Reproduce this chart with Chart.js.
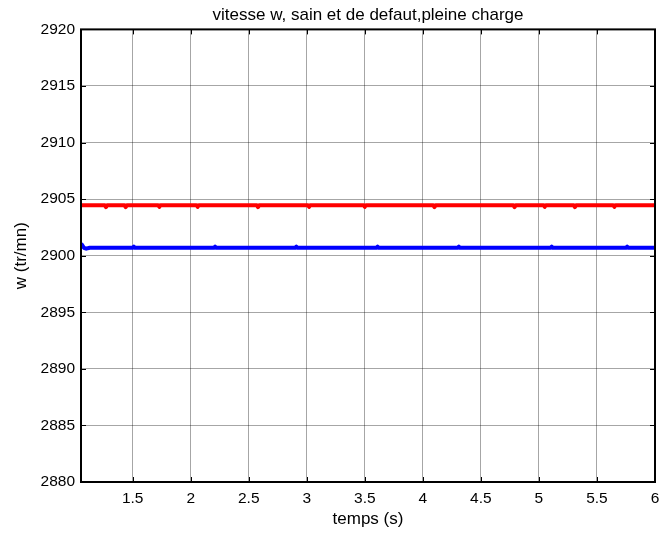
<!DOCTYPE html>
<html>
<head>
<meta charset="utf-8">
<script src="https://cdn.jsdelivr.net/npm/chart.js@4/dist/chart.umd.min.js"></script>
<style>
  html, body { margin: 0; padding: 0; background: #ffffff; }
  #wrap { width: 659px; height: 536px; }
</style>
</head>
<body>
<div id="wrap"><canvas id="c" width="659" height="536"></canvas></div>
<script>
// Red trace: sample times (s) and rotor speed (tr/mn)
const timeRed = [1.055, 1.26, 1.27, 1.28, 1.43, 1.44, 1.45, 1.72, 1.73, 1.74, 2.05, 2.06,
  2.07, 2.57, 2.58, 2.59, 3.01, 3.02, 3.03, 3.49, 3.50, 3.51, 4.09, 4.10, 4.11, 4.78,
  4.79, 4.80, 5.04, 5.05, 5.06, 5.30, 5.31, 5.32, 5.64, 5.65, 5.66, 6.0];
const speedRed = [2904.45, 2904.45, 2904.3, 2904.45, 2904.45, 2904.3, 2904.45, 2904.45,
  2904.32, 2904.45, 2904.45, 2904.32, 2904.45, 2904.45, 2904.3, 2904.45, 2904.45,
  2904.32, 2904.45, 2904.45, 2904.32, 2904.45, 2904.45, 2904.3, 2904.45, 2904.45,
  2904.3, 2904.45, 2904.45, 2904.32, 2904.45, 2904.45, 2904.3, 2904.45, 2904.45,
  2904.32, 2904.45, 2904.45];

// Blue trace: sample times (s) and rotor speed (tr/mn)
const timeBlue = [1.055, 1.065, 1.08, 1.1, 1.13, 1.5, 1.51, 1.52, 2.2, 2.21, 2.22, 2.9,
  2.91, 2.92, 3.6, 3.61, 3.62, 4.3, 4.31, 4.32, 5.1, 5.11, 5.12, 5.75, 5.76, 5.77, 6.0];
const speedBlue = [2901.05, 2900.95, 2900.7, 2900.62, 2900.7, 2900.7, 2900.8, 2900.7,
  2900.7, 2900.8, 2900.7, 2900.7, 2900.8, 2900.7, 2900.7, 2900.8, 2900.7, 2900.7,
  2900.8, 2900.7, 2900.7, 2900.8, 2900.7, 2900.7, 2900.8, 2900.7, 2900.7];

const xTicks = [1.5, 2, 2.5, 3, 3.5, 4, 4.5, 5, 5.5, 6];
const yTicks = [2880, 2885, 2890, 2895, 2900, 2905, 2910, 2915, 2920];

const FONT = "'Liberation Sans', Arial, sans-serif";
const toPoints = (ts, ys) => ts.map((t, i) => ({ x: t, y: ys[i] }));

// Box around the axes plus inward tick marks on all four sides
const boxAndTicks = {
  id: 'boxAndTicks',
  afterDatasetsDraw(chart) {
    const { ctx, chartArea: a, scales } = chart;
    const len = 5;
    ctx.save();
    ctx.strokeStyle = '#000';
    ctx.lineWidth = 1;
    ctx.beginPath();
    xTicks.forEach(v => {
      const px = Math.round(scales.x.getPixelForValue(v)) + 0.5;
      ctx.moveTo(px, a.bottom); ctx.lineTo(px, a.bottom - len);
      ctx.moveTo(px, a.top); ctx.lineTo(px, a.top + len);
    });
    yTicks.forEach(v => {
      const py = Math.round(scales.y.getPixelForValue(v)) + 0.5;
      ctx.moveTo(a.left, py); ctx.lineTo(a.left + len, py);
      ctx.moveTo(a.right, py); ctx.lineTo(a.right - len, py);
    });
    ctx.stroke();
    ctx.lineWidth = 2;
    ctx.strokeRect(a.left, a.top, a.right - a.left, a.bottom - a.top);
    ctx.restore();
  }
};

const lineStyle = { borderWidth: 4, pointRadius: 0, tension: 0, borderJoinStyle: 'round' };

new Chart(document.getElementById('c'), {
  type: 'line',
  data: {
    datasets: [
      { data: toPoints(timeRed, speedRed), borderColor: '#ff0000', ...lineStyle },
      { data: toPoints(timeBlue, speedBlue), borderColor: '#0000ff', ...lineStyle }
    ]
  },
  options: {
    responsive: false,
    devicePixelRatio: 1,
    animation: false,
    events: [],
    layout: { padding: { left: 0, right: 4, top: 0, bottom: 0 } },
    plugins: {
      legend: { display: false },
      tooltip: { enabled: false },
      title: {
        display: true,
        fullSize: false,
        text: 'vitesse w, sain et de defaut,pleine charge',
        color: '#000',
        font: { family: FONT, size: 17, weight: 'normal' },
        padding: { top: 5, bottom: 4 }
      }
    },
    scales: {
      x: {
        type: 'linear',
        min: 1.055,
        max: 6,
        afterBuildTicks: s => { s.ticks = xTicks.map(v => ({ value: v })); },
        afterFit: s => { s.height = 54; s.paddingLeft = 0; s.paddingRight = 0; },
        grid: { color: 'rgba(0,0,0,0.35)', lineWidth: 1, drawTicks: false },
        border: { display: false },
        ticks: {
          color: '#000',
          font: { family: FONT, size: 15.5 },
          padding: 7,
          maxRotation: 0,
          callback: v => String(v)
        },
        title: {
          display: true,
          text: 'temps (s)',
          color: '#000',
          font: { family: FONT, size: 17 },
          padding: { top: 0, bottom: 6 }
        }
      },
      y: {
        min: 2880,
        max: 2920,
        afterBuildTicks: s => { s.ticks = yTicks.map(v => ({ value: v })); },
        afterFit: s => { s.width = 81; s.paddingTop = 0; s.paddingBottom = 0; },
        grid: { color: 'rgba(0,0,0,0.35)', lineWidth: 1, drawTicks: false },
        border: { display: false },
        ticks: {
          color: '#000',
          font: { family: FONT, size: 15.5 },
          padding: 6,
          callback: v => String(v)
        },
        title: {
          display: true,
          text: 'w (tr/mn)',
          color: '#000',
          font: { family: FONT, size: 17 },
          padding: { top: 11, bottom: 0 }
        }
      }
    }
  },
  plugins: [boxAndTicks]
});
</script>
</body>
</html>
